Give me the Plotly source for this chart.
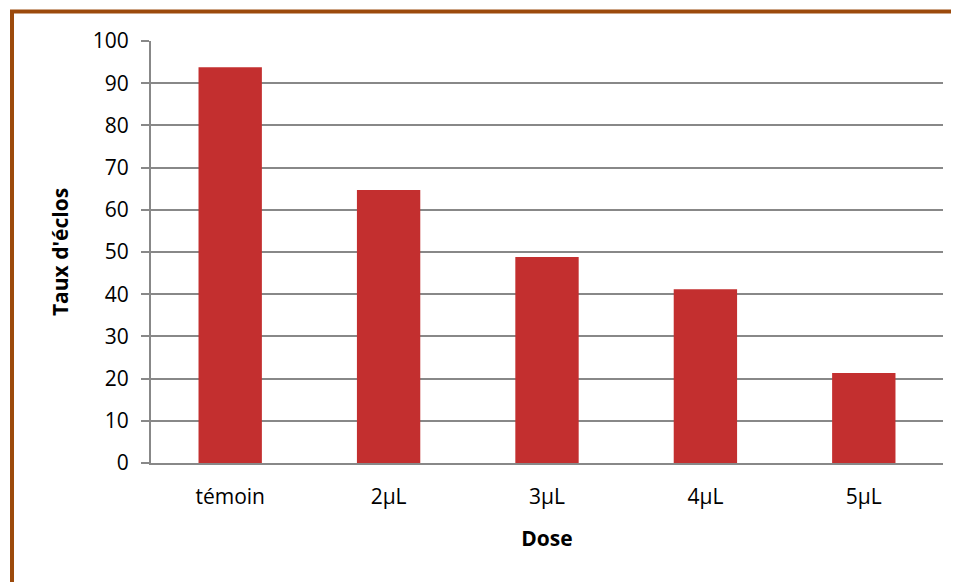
import plotly.graph_objects as go

doses = ["témoin", "2µL", "3µL", "4µL", "5µL"]
taux = [93.8, 64.7, 48.8, 41.2, 21.3]

fig = go.Figure([go.Bar(x=doses, y=taux, marker=dict(color="#C32F2F", line=dict(width=0)))])

# la page ajoute une marge de 8px autour du graphique
fig.update_layout(
    width=951, height=574,
    margin=dict(l=143, r=16, t=33, b=119),
    paper_bgcolor="white", plot_bgcolor="white",
    font=dict(family="Open Sans", size=21, color="black"),
    bargap=0.6, showlegend=False,
)
fig.update_xaxes(
    title=dict(text="<b>Dose</b>", font=dict(size=21), standoff=22),
    showline=True, linecolor="#888888", linewidth=2,
    ticks="", tickfont=dict(size=21), ticklabelstandoff=14,
)
fig.update_yaxes(
    title=dict(text="<b>Taux d'éclos</b>", font=dict(size=21), standoff=18),
    range=[0, 100], dtick=10,
    showgrid=True, gridcolor="#888888", gridwidth=1.5,
    showline=True, linecolor="#888888", linewidth=2,
    ticks="outside", ticklen=8, tickcolor="#888888", tickwidth=2,
    zeroline=False, tickfont=dict(size=21), ticklabelstandoff=8,
)
# cadre marron
fig.add_shape(type="rect", xref="paper", yref="paper",
              x0=-0.1755, y0=-0.6, x1=1.2, y1=1.0699,
              line=dict(color="#9C4A0C", width=4), layer="below")

fig.write_html("out.html")
